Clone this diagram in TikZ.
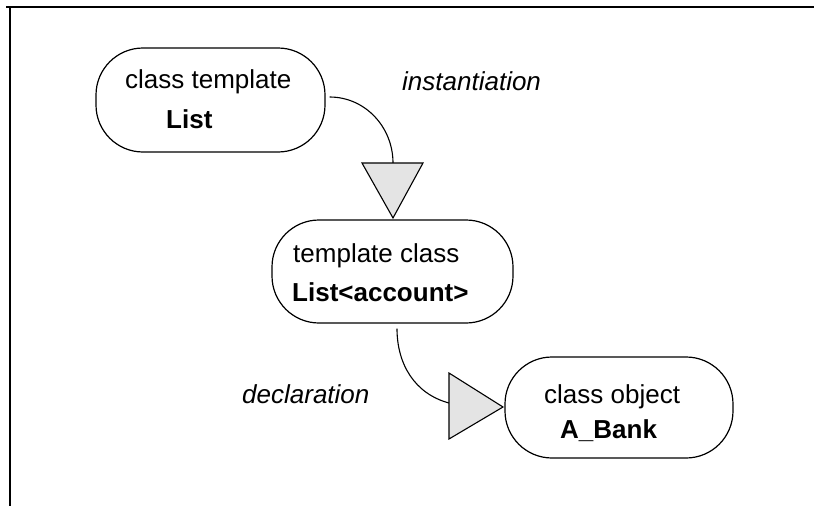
\documentclass[tikz,border=0pt]{standalone}
\usepackage{fontspec}
\setmainfont{Liberation Sans}
\definecolor{trifill}{HTML}{E4E4E4}
\tikzset{
  stagebox/.style={draw=black, line width=1.2pt, rounded corners=47pt, inner sep=0pt},
  txt/.style={anchor=base west, inner sep=0pt, font=\fontsize{26}{31}\selectfont},
  bold/.style={txt, font=\fontsize{26}{31}\selectfont\bfseries},
  rel/.style={txt, font=\fontsize{26}{31}\selectfont\itshape},
  link/.style={draw=black, line width=1.1pt},
  arrowtri/.style={draw=black, line width=1.1pt, fill=trifill, line join=miter}
}
\begin{document}
\begin{tikzpicture}[x=1pt, y=-1pt]
\useasboundingbox (0,0) rectangle (814,506);
% open frame: top and left edges
\draw[line width=2pt] (6,7) -- (814,7);
\draw[line width=2pt] (10,7) -- (10,506);

% boxes
\node[stagebox, minimum width=229pt, minimum height=104pt] (tmpl) at (210.5,100) {};
\node[stagebox, minimum width=241pt, minimum height=103pt] (inst) at (392.5,271.5) {};
\node[stagebox, minimum width=228pt, minimum height=101pt] (obj) at (619,407.5) {};

% box texts
\node[txt]  (t1a) at (125,88)  {class template};
\node[bold] (t1b) at (166,128) {List};
\node[txt]  (t2a) at (293,262) {template class};
\node[bold] (t2b) at (292,301) {List<account>};
\node[txt]  (t3a) at (544,403) {class object};
\node[bold] (t3b) at (560,438) {A\_Bank};

% relation labels
\node[rel] (l1) at (402,90)  {instantiation};
\node[rel] (l2) at (242,403) {declaration};

% instantiation: curve into a downward triangle
\coordinate (c1s) at ([xshift=4pt,yshift=3pt]tmpl.east);
\coordinate (c1e) at (393,163);
\draw[link] (c1s) to[out=0, in=90] (c1e);
\draw[arrowtri] (362,163) -- (423,163) -- (393,218) -- cycle;

% declaration: curve into a rightward triangle
\coordinate (c2s) at ([xshift=4.5pt,yshift=-5pt]inst.south);
\coordinate (c2e) at (449,403);
\draw[link] (c2s) to[out=-90, in=165] (c2e);
\draw[arrowtri] (449,373) -- (503,407) -- (449,439) -- cycle;
\end{tikzpicture}
\end{document}
